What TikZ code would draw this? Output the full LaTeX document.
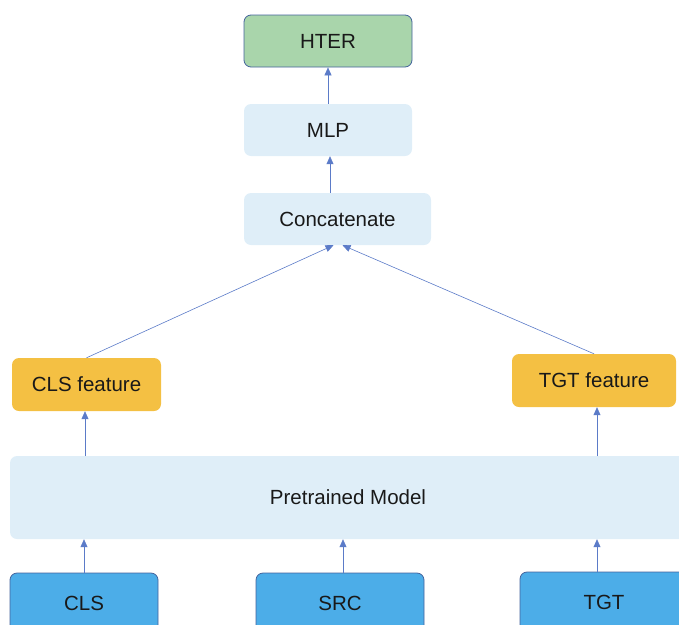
\documentclass[tikz,border=0pt]{standalone}
\usepackage{fontspec}
\setmainfont{Liberation Sans}
\usetikzlibrary{arrows.meta}
\definecolor{outgreen}{HTML}{A9D5AB}
\definecolor{layerblue}{HTML}{DFEEF8}
\definecolor{featorange}{HTML}{F4C043}
\definecolor{tokblue}{HTML}{4CADE8}
\definecolor{edgeblue}{HTML}{44639C}
\definecolor{arrowblue}{HTML}{5B7BC8}
\begin{document}
\begin{tikzpicture}[x=1pt,y=-1pt, font=\fontsize{20.5}{24}\selectfont,
    box/.style={rounded corners=7pt, inner sep=0pt, text=black!90},
    layer/.style={box, fill=layerblue},
    feat/.style={box, fill=featorange},
    token/.style={box, fill=tokblue, draw=edgeblue, line width=0.8pt},
    flow/.style={-{Triangle[length=8pt,width=7pt]}, arrowblue, line width=0.6pt}]
    \useasboundingbox (0,0) rectangle (679,624);
    \clip (0,0) rectangle (679,624);
    % output head
    \node[box, fill=outgreen, draw=edgeblue, line width=0.8pt, minimum width=168pt, minimum height=52pt] (hter) at (328,41) {HTER};
    \node[layer, minimum width=168pt, minimum height=52pt] (mlp) at (328,130) {MLP};
    \node[layer, minimum width=187pt, minimum height=52pt] (concat) at (337.5,219) {Concatenate};
    % features
    \node[feat, minimum width=149pt, minimum height=53pt] (clsfeat) at (86.5,384.5) {CLS feature};
    \node[feat, minimum width=164pt, minimum height=53pt] (tgtfeat) at (594,380.5) {TGT feature};
    % encoder
    \node[layer, minimum width=690pt, minimum height=83pt] (pretrained) at (355,497.5) {};
    \node[text=black!90] (ptlabel) at (348,497.5) {Pretrained Model};
    % inputs
    \node[token, minimum width=148pt, minimum height=60pt] (cls) at (84,603) {CLS};
    \node[token, minimum width=168pt, minimum height=60pt] (src) at (340,603) {SRC};
    \node[token, minimum width=168pt, minimum height=60pt] (tgt) at (604,602) {TGT};
    % connections
    \draw[flow] (mlp.north) -- (hter.south);
    \draw[flow] ([xshift=-7.5pt]concat.north) coordinate (c1) -- (c1 |- mlp.south);
    \draw[flow] (clsfeat.north) -- ([xshift=-4pt]concat.south);
    \draw[flow] (tgtfeat.north) -- ([xshift=5pt]concat.south);
    \draw[flow] (85,456) coordinate (p1) -- (p1 |- clsfeat.south);
    \draw[flow] (597,456) coordinate (p2) -- (p2 |- tgtfeat.south);
    \draw[flow] (cls.north) -- (cls.north |- pretrained.south);
    \draw[flow] (343,573) coordinate (s2) -- (s2 |- pretrained.south);
    \draw[flow] (597,572) coordinate (s3) -- (s3 |- pretrained.south);
\end{tikzpicture}
\end{document}
